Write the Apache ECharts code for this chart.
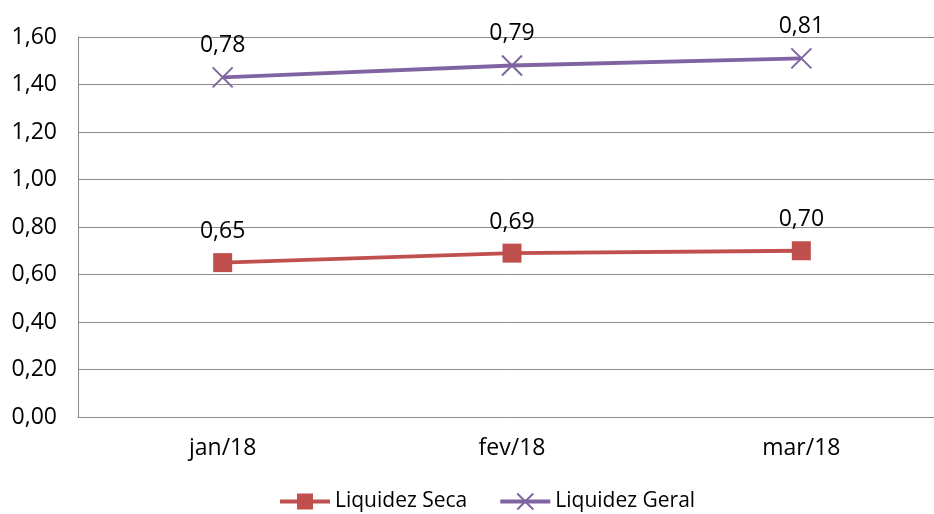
<!DOCTYPE html>
<html>
<head>
<meta charset="utf-8">
<script src="https://cdn.jsdelivr.net/npm/echarts@6/dist/echarts.min.js"></script>
<style>
html,body{margin:0;padding:0;background:#fff;}
#c{width:934px;height:514px;}
</style>
</head>
<body>
<div id="c"></div>
<script>
const categories = ['jan/18', 'fev/18', 'mar/18'];
const liquidezSeca = [0.65, 0.69, 0.70];
const liquidezGeral = [0.78, 0.79, 0.81];
const yTicks = { min: 0, max: 1.6, interval: 0.2 };

const fmt = v => Number(v).toFixed(2).replace('.', ',');
const font = 'Open Sans';
const chart = echarts.init(document.getElementById('c'));
chart.setOption({
  animation: false,
  textStyle: { fontFamily: font },
  grid: { left: 78, width: 868, top: 37, height: 380, containLabel: false, outerBoundsMode: 'none' },
  legend: {
    top: 486,
    left: 273,
    itemGap: 31,
    itemWidth: 50,
    itemHeight: 20,
    lineStyle: { width: 4 },
    textStyle: { fontSize: 21, color: '#000', fontFamily: font },
    data: ['Liquidez Seca', 'Liquidez Geral']
  },
  xAxis: {
    type: 'category',
    data: categories,
    boundaryGap: true,
    axisLine: { lineStyle: { color: '#8c8c8c', width: 1 } },
    axisTick: { show: false },
    axisLabel: { fontSize: 23, color: '#000', margin: 20, fontFamily: font }
  },
  yAxis: {
    type: 'value',
    min: yTicks.min,
    max: yTicks.max,
    interval: yTicks.interval,
    axisLine: { show: true, lineStyle: { color: '#8c8c8c', width: 1 } },
    axisTick: { show: false },
    splitLine: { lineStyle: { color: '#8c8c8c', width: 1 } },
    axisLabel: { fontSize: 23, color: '#000', margin: 21, fontFamily: font, formatter: v => fmt(v) }
  },
  series: [
    {
      name: 'Liquidez Seca',
      type: 'line',
      stack: 'total',
      data: liquidezSeca,
      symbol: 'rect',
      symbolSize: 19,
      lineStyle: { color: '#C0504D', width: 4 },
      itemStyle: { color: '#C0504D' },
      label: { show: true, position: 'top', distance: 10, fontSize: 23, color: '#000', fontFamily: font, formatter: p => fmt(p.value) }
    },
    {
      name: 'Liquidez Geral',
      type: 'line',
      stack: 'total',
      data: liquidezGeral,
      symbol: 'path://M0,0L10,10M10,0L0,10',
      symbolSize: 20,
      lineStyle: { color: '#8064A2', width: 4 },
      itemStyle: { color: 'none', borderColor: '#8064A2', borderWidth: 2 },
      label: { show: true, position: 'top', distance: 8, fontSize: 23, color: '#000', fontFamily: font, formatter: p => fmt(p.value) }
    }
  ]
});
</script>
</body>
</html>
